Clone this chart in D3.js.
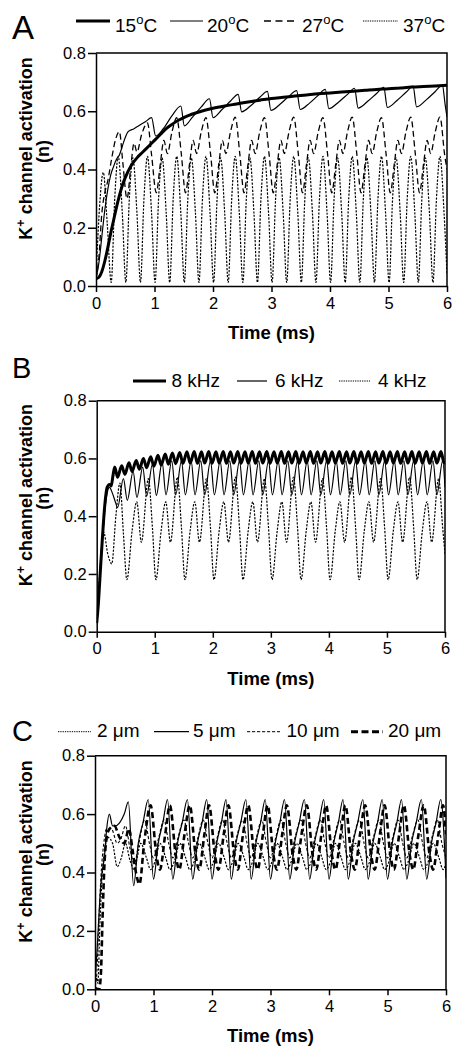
<!DOCTYPE html>
<html><head><meta charset="utf-8">
<script src="https://cdn.jsdelivr.net/npm/d3@7"></script>
<style>
body{margin:0;background:#fff}
svg{display:block}
text{font-family:"Liberation Sans",Arial,Helvetica,sans-serif;fill:#000}
</style>
</head><body>
<svg id="chart" width="462" height="1050"></svg>
<script>
// ---------- tick labels / categories ----------
const timeTicks = [0, 1, 2, 3, 4, 5, 6];
const nTicks = [0, 0.2, 0.4, 0.6, 0.8];
const panelLetters = ["A", "B", "C"];
const legendA = ["15", "20", "27", "37"];          // °C
const legendB = ["8 kHz", "6 kHz", "4 kHz"];
const legendC = ["2 μm", "5 μm", "10 μm", "20 μm"];
const xTitle = "Time (ms)";

// ---------- Panel A : temperature ----------
const a15 = [[0,0.025],[0.05,0.03],[0.1,0.05],[0.15,0.085],[0.2,0.13],[0.25,0.18],[0.3,0.225],[0.35,0.27],[0.4,0.31],[0.45,0.345],[0.5,0.372],[0.6,0.413],[0.7,0.44],[0.8,0.46],[0.9,0.48],[1.0,0.5],[1.1,0.52],[1.2,0.54],[1.3,0.555],[1.4,0.568],[1.5,0.578],[1.6,0.587],[1.8,0.6],[2.0,0.61],[2.2,0.618],[2.4,0.625],[2.6,0.632],[2.8,0.638],[3.0,0.644],[3.2,0.648],[3.4,0.652],[3.6,0.656],[3.8,0.66],[4.0,0.663],[4.2,0.666],[4.4,0.669],[4.6,0.672],[4.8,0.675],[5.0,0.677],[5.2,0.68],[5.4,0.683],[5.6,0.685],[5.8,0.687],[6.0,0.689]];
const a20 = [[0,0.025],[0.05,0.08],[0.1,0.17],[0.15,0.26],[0.2,0.33],[0.25,0.38],[0.3,0.41],[0.35,0.435],[0.4,0.45],[0.45,0.48],[0.5,0.51],[0.55,0.53],[0.65,0.54],[0.75,0.553],[0.85,0.565],[0.95,0.578],
[1.02,0.515],[1.15,0.54],[1.3,0.585],[1.45,0.618],
[1.51,0.55],[1.65,0.58],[1.8,0.615],[1.94,0.643],
[2.0,0.578],[2.15,0.605],[2.3,0.635],[2.43,0.658],
[2.49,0.598],[2.65,0.62],[2.8,0.648],[2.93,0.668],
[2.99,0.603],[3.15,0.625],[3.3,0.652],[3.43,0.671],
[3.49,0.606],[3.65,0.628],[3.8,0.655],[3.92,0.675],
[3.98,0.609],[4.15,0.632],[4.3,0.658],[4.42,0.679],
[4.48,0.611],[4.65,0.635],[4.8,0.662],[4.92,0.682],
[4.98,0.613],[5.15,0.638],[5.3,0.665],[5.42,0.686],
[5.48,0.615],[5.65,0.64],[5.8,0.668],[5.92,0.69],
[5.97,0.62],[6.0,0.58]];
const a27 = [[0,0.025],[0.05,0.1],[0.1,0.25],[0.15,0.32],[0.2,0.36],[0.27,0.44],[0.33,0.5],[0.4,0.53],[0.46,0.42],[0.53,0.3],[0.6,0.42],[0.65,0.49],[0.7,0.46],[0.78,0.52],[0.88,0.56],[0.95,0.45],
[1.03,0.32],[1.1,0.42],[1.16,0.5],[1.22,0.455],[1.3,0.53],[1.38,0.578],[1.46,0.45],
[1.53,0.32],[1.6,0.42],[1.66,0.5],[1.72,0.455],[1.8,0.53],[1.88,0.578],[1.96,0.45],
[2.03,0.32],[2.1,0.42],[2.16,0.5],[2.22,0.455],[2.3,0.53],[2.38,0.58],[2.46,0.45],
[2.53,0.32],[2.6,0.42],[2.66,0.5],[2.72,0.455],[2.8,0.53],[2.88,0.578],[2.96,0.45],
[3.03,0.32],[3.1,0.42],[3.16,0.5],[3.22,0.455],[3.3,0.53],[3.38,0.58],[3.46,0.45],
[3.53,0.32],[3.6,0.42],[3.66,0.5],[3.72,0.455],[3.8,0.53],[3.88,0.578],[3.96,0.45],
[4.03,0.32],[4.1,0.42],[4.16,0.5],[4.22,0.455],[4.3,0.53],[4.38,0.58],[4.46,0.45],
[4.53,0.32],[4.6,0.42],[4.66,0.5],[4.72,0.455],[4.8,0.53],[4.88,0.578],[4.96,0.45],
[5.03,0.32],[5.1,0.42],[5.16,0.5],[5.22,0.455],[5.3,0.53],[5.38,0.58],[5.46,0.45],
[5.53,0.32],[5.6,0.42],[5.66,0.5],[5.72,0.455],[5.8,0.53],[5.88,0.58],[5.96,0.45],[6.0,0.4]];
const a37 = [[0,0.025],[0.06,0.27],[0.125,0.39],[0.19,0.22],[0.26,0.012],
[0.32,0.3],[0.38,0.445],[0.45,0.25],[0.51,0.012],
[0.57,0.3],[0.63,0.44],[0.7,0.25],[0.76,0.012],
[0.82,0.3],[0.88,0.445],[0.95,0.25],[1.01,0.012],
[1.07,0.3],[1.13,0.44],[1.2,0.25],[1.26,0.012],
[1.32,0.3],[1.38,0.445],[1.45,0.25],[1.51,0.012],
[1.57,0.3],[1.63,0.44],[1.7,0.25],[1.76,0.012],
[1.82,0.3],[1.88,0.445],[1.95,0.25],[2.01,0.012],
[2.07,0.3],[2.13,0.44],[2.2,0.25],[2.26,0.012],
[2.32,0.3],[2.38,0.445],[2.45,0.25],[2.51,0.012],
[2.57,0.3],[2.63,0.44],[2.7,0.25],[2.76,0.012],
[2.82,0.3],[2.88,0.445],[2.95,0.25],[3.01,0.012],
[3.07,0.3],[3.13,0.44],[3.2,0.25],[3.26,0.012],
[3.32,0.3],[3.38,0.445],[3.45,0.25],[3.51,0.012],
[3.57,0.3],[3.63,0.44],[3.7,0.25],[3.76,0.012],
[3.82,0.3],[3.88,0.445],[3.95,0.25],[4.01,0.012],
[4.07,0.3],[4.13,0.44],[4.2,0.25],[4.26,0.012],
[4.32,0.3],[4.38,0.445],[4.45,0.25],[4.51,0.012],
[4.57,0.3],[4.63,0.44],[4.7,0.25],[4.76,0.012],
[4.82,0.3],[4.88,0.445],[4.95,0.25],[5.01,0.012],
[5.07,0.3],[5.13,0.44],[5.2,0.25],[5.26,0.012],
[5.32,0.3],[5.38,0.445],[5.45,0.25],[5.51,0.012],
[5.57,0.3],[5.63,0.44],[5.7,0.25],[5.76,0.012],
[5.82,0.3],[5.88,0.445],[5.95,0.25],[6.0,0.04]];

// ---------- Panel B : frequency ----------
const b8 = [[0,0.03],[0.03,0.1],[0.06,0.2],[0.1,0.33],[0.14,0.44],[0.18,0.5],[0.22,0.51],[0.25,0.505],[0.28,0.54],[0.31,0.57],
[0.36,0.535],[0.43,0.575],[0.485,0.545],[0.555,0.585],[0.61,0.555],[0.68,0.593],[0.735,0.563],[0.805,0.6],[0.86,0.568],[0.93,0.606],
[0.985,0.573],[1.055,0.611],[1.11,0.577],[1.18,0.615],[1.235,0.58],[1.305,0.619],[1.36,0.582],[1.43,0.621],[1.485,0.583],[1.555,0.623],
[1.61,0.584],[1.68,0.624],[1.735,0.583],[1.805,0.623],[1.86,0.584],[1.93,0.624],[1.985,0.583],[2.055,0.623],[2.11,0.584],[2.18,0.624],
[2.235,0.583],[2.305,0.623],[2.36,0.584],[2.43,0.624],[2.485,0.583],[2.555,0.623],[2.61,0.584],[2.68,0.624],[2.735,0.583],[2.805,0.623],
[2.86,0.584],[2.93,0.624],[2.985,0.583],[3.055,0.623],[3.11,0.584],[3.18,0.624],[3.235,0.583],[3.305,0.623],[3.36,0.584],[3.43,0.624],
[3.485,0.583],[3.555,0.623],[3.61,0.584],[3.68,0.624],[3.735,0.583],[3.805,0.623],[3.86,0.584],[3.93,0.624],[3.985,0.583],[4.055,0.623],
[4.11,0.584],[4.18,0.624],[4.235,0.583],[4.305,0.623],[4.36,0.584],[4.43,0.624],[4.485,0.583],[4.555,0.623],[4.61,0.584],[4.68,0.624],
[4.735,0.583],[4.805,0.623],[4.86,0.584],[4.93,0.624],[4.985,0.583],[5.055,0.623],[5.11,0.584],[5.18,0.624],[5.235,0.583],[5.305,0.623],
[5.36,0.584],[5.43,0.624],[5.485,0.583],[5.555,0.623],[5.61,0.584],[5.68,0.624],[5.735,0.583],[5.805,0.623],[5.86,0.584],[5.93,0.624],
[5.985,0.584],[6.0,0.59]];
const b6 = [[0,0.03],[0.03,0.1],[0.06,0.2],[0.1,0.32],[0.14,0.42],[0.18,0.48],[0.22,0.5],[0.27,0.48],[0.32,0.45],
[0.36,0.43],[0.46,0.53],[0.527,0.455],[0.627,0.555],[0.693,0.465],[0.793,0.57],[0.86,0.47],[0.96,0.58],[1.027,0.472],[1.127,0.587],
[1.193,0.474],[1.293,0.592],[1.36,0.474],[1.46,0.592],[1.527,0.474],[1.627,0.592],[1.693,0.474],[1.793,0.592],[1.86,0.474],[1.96,0.592],
[2.027,0.474],[2.127,0.592],[2.193,0.474],[2.293,0.592],[2.36,0.474],[2.46,0.592],[2.527,0.474],[2.627,0.592],[2.693,0.474],[2.793,0.592],
[2.86,0.474],[2.96,0.592],[3.027,0.474],[3.127,0.592],[3.193,0.474],[3.293,0.592],[3.36,0.474],[3.46,0.592],[3.527,0.474],[3.627,0.592],
[3.693,0.474],[3.793,0.592],[3.86,0.474],[3.96,0.592],[4.027,0.474],[4.127,0.592],[4.193,0.474],[4.293,0.592],[4.36,0.474],[4.46,0.592],
[4.527,0.474],[4.627,0.592],[4.693,0.474],[4.793,0.592],[4.86,0.474],[4.96,0.592],[5.027,0.474],[5.127,0.592],[5.193,0.474],[5.293,0.592],
[5.36,0.474],[5.46,0.592],[5.527,0.474],[5.627,0.592],[5.693,0.474],[5.793,0.592],[5.86,0.474],[5.96,0.592],[6.0,0.5]];
const b4 = [[0,0.03],[0.05,0.2],[0.12,0.345],[0.19,0.27],[0.26,0.235],[0.33,0.4],[0.4,0.515],[0.46,0.34],[0.52,0.18],
[0.61,0.35],[0.69,0.45],[0.77,0.31],[0.89,0.53],[0.96,0.36],[1.02,0.18],
[1.11,0.35],[1.19,0.45],[1.27,0.31],[1.39,0.535],[1.46,0.36],[1.52,0.18],
[1.61,0.35],[1.69,0.45],[1.77,0.31],[1.89,0.53],[1.96,0.36],[2.02,0.18],
[2.11,0.35],[2.19,0.45],[2.27,0.31],[2.39,0.535],[2.46,0.36],[2.52,0.18],
[2.61,0.35],[2.69,0.45],[2.77,0.31],[2.89,0.53],[2.96,0.36],[3.02,0.18],
[3.11,0.35],[3.19,0.45],[3.27,0.31],[3.39,0.535],[3.46,0.36],[3.52,0.18],
[3.61,0.35],[3.69,0.45],[3.77,0.31],[3.89,0.53],[3.96,0.36],[4.02,0.18],
[4.11,0.35],[4.19,0.45],[4.27,0.31],[4.39,0.535],[4.46,0.36],[4.52,0.18],
[4.61,0.35],[4.69,0.45],[4.77,0.31],[4.89,0.53],[4.96,0.36],[5.02,0.18],
[5.11,0.35],[5.19,0.45],[5.27,0.31],[5.39,0.535],[5.46,0.36],[5.52,0.18],
[5.61,0.35],[5.69,0.45],[5.77,0.31],[5.89,0.53],[5.96,0.36],[6.0,0.27]];

// ---------- Panel C : fibre diameter ----------
const c2 = [[0,0.02],[0.03,0.04],[0.05,0.02],[0.08,0.2],[0.12,0.38],[0.17,0.48],[0.22,0.52],[0.3,0.5],[0.38,0.42],[0.45,0.45],[0.52,0.5],[0.6,0.44],[0.67,0.41],[0.72,0.45],[0.78,0.5],
[0.88,0.45],[0.95,0.41],[1.03,0.44],[1.11,0.5],[1.21,0.45],[1.28,0.41],[1.36,0.44],[1.45,0.5],[1.55,0.45],[1.62,0.41],[1.7,0.44],[1.78,0.5],
[1.88,0.45],[1.95,0.41],[2.03,0.44],[2.11,0.5],[2.21,0.45],[2.28,0.41],[2.36,0.44],[2.45,0.5],[2.55,0.45],[2.62,0.41],[2.7,0.44],[2.78,0.5],
[2.88,0.45],[2.95,0.41],[3.03,0.44],[3.11,0.5],[3.21,0.45],[3.28,0.41],[3.36,0.44],[3.45,0.5],[3.55,0.45],[3.62,0.41],[3.7,0.44],[3.78,0.5],
[3.88,0.45],[3.95,0.41],[4.03,0.44],[4.11,0.5],[4.21,0.45],[4.28,0.41],[4.36,0.44],[4.45,0.5],[4.55,0.45],[4.62,0.41],[4.7,0.44],[4.78,0.5],
[4.88,0.45],[4.95,0.41],[5.03,0.44],[5.11,0.5],[5.21,0.45],[5.28,0.41],[5.36,0.44],[5.45,0.5],[5.55,0.45],[5.62,0.41],[5.7,0.44],[5.78,0.5],
[5.88,0.45],[5.95,0.41],[6.0,0.43]];
const c5 = [[0,0.02],[0.04,0.15],[0.08,0.3],[0.12,0.4],[0.16,0.45],[0.2,0.55],[0.245,0.6],[0.3,0.56],[0.35,0.56],[0.42,0.57],[0.5,0.6],[0.57,0.642],[0.66,0.355],[0.74,0.5],[0.82,0.57],[0.91,0.65],
[1.0,0.377],[1.08,0.5],[1.16,0.57],[1.24,0.65],[1.33,0.377],[1.41,0.5],[1.49,0.57],[1.58,0.65],[1.67,0.377],[1.75,0.5],[1.83,0.57],[1.91,0.65],
[2.0,0.377],[2.08,0.5],[2.16,0.57],[2.24,0.65],[2.33,0.377],[2.41,0.5],[2.49,0.57],[2.58,0.65],[2.67,0.377],[2.75,0.5],[2.83,0.57],[2.91,0.65],
[3.0,0.377],[3.08,0.5],[3.16,0.57],[3.24,0.65],[3.33,0.377],[3.41,0.5],[3.49,0.57],[3.58,0.65],[3.67,0.377],[3.75,0.5],[3.83,0.57],[3.91,0.65],
[4.0,0.377],[4.08,0.5],[4.16,0.57],[4.24,0.65],[4.33,0.377],[4.41,0.5],[4.49,0.57],[4.58,0.65],[4.67,0.377],[4.75,0.5],[4.83,0.57],[4.91,0.65],
[5.0,0.377],[5.08,0.5],[5.16,0.57],[5.24,0.65],[5.33,0.377],[5.41,0.5],[5.49,0.57],[5.58,0.65],[5.67,0.377],[5.75,0.5],[5.83,0.57],[5.91,0.65],
[6.0,0.38]];
const c10 = [[0,0.01],[0.03,0.05],[0.06,0.2],[0.1,0.38],[0.15,0.5],[0.2,0.55],[0.28,0.55],[0.38,0.5],[0.45,0.52],[0.52,0.56],[0.6,0.48],[0.67,0.43],[0.75,0.5],[0.85,0.58],
[0.93,0.5],[1.0,0.45],[1.09,0.52],[1.18,0.58],[1.26,0.5],[1.33,0.45],[1.42,0.52],[1.52,0.58],[1.6,0.5],[1.67,0.45],[1.76,0.52],[1.85,0.58],
[1.93,0.5],[2.0,0.45],[2.09,0.52],[2.18,0.58],[2.26,0.5],[2.33,0.45],[2.42,0.52],[2.52,0.58],[2.6,0.5],[2.67,0.45],[2.76,0.52],[2.85,0.58],
[2.93,0.5],[3.0,0.45],[3.09,0.52],[3.18,0.58],[3.26,0.5],[3.33,0.45],[3.42,0.52],[3.52,0.58],[3.6,0.5],[3.67,0.45],[3.76,0.52],[3.85,0.58],
[3.93,0.5],[4.0,0.45],[4.09,0.52],[4.18,0.58],[4.26,0.5],[4.33,0.45],[4.42,0.52],[4.52,0.58],[4.6,0.5],[4.67,0.45],[4.76,0.52],[4.85,0.58],
[4.93,0.5],[5.0,0.45],[5.09,0.52],[5.18,0.58],[5.26,0.5],[5.33,0.45],[5.42,0.52],[5.52,0.58],[5.6,0.5],[5.67,0.45],[5.76,0.52],[5.85,0.58],
[5.93,0.5],[6.0,0.45]];
const c20 = [[0,0.005],[0.07,0.0],[0.1,0.05],[0.13,0.25],[0.16,0.42],[0.2,0.52],[0.25,0.55],[0.33,0.56],[0.42,0.52],[0.5,0.5],[0.58,0.55],[0.64,0.48],[0.7,0.4],[0.76,0.36],[0.84,0.5],[0.95,0.63],
[1.05,0.46],[1.11,0.41],[1.2,0.53],[1.28,0.63],[1.38,0.46],[1.44,0.41],[1.53,0.53],[1.62,0.63],[1.72,0.46],[1.78,0.41],[1.87,0.53],[1.95,0.63],
[2.05,0.46],[2.11,0.41],[2.2,0.53],[2.28,0.63],[2.38,0.46],[2.44,0.41],[2.53,0.53],[2.62,0.63],[2.72,0.46],[2.78,0.41],[2.87,0.53],[2.95,0.63],
[3.05,0.46],[3.11,0.41],[3.2,0.53],[3.28,0.63],[3.38,0.46],[3.44,0.41],[3.53,0.53],[3.62,0.63],[3.72,0.46],[3.78,0.41],[3.87,0.53],[3.95,0.63],
[4.05,0.46],[4.11,0.41],[4.2,0.53],[4.28,0.63],[4.38,0.46],[4.44,0.41],[4.53,0.53],[4.62,0.63],[4.72,0.46],[4.78,0.41],[4.87,0.53],[4.95,0.63],
[5.05,0.46],[5.11,0.41],[5.2,0.53],[5.28,0.63],[5.38,0.46],[5.44,0.41],[5.53,0.53],[5.62,0.63],[5.72,0.46],[5.78,0.41],[5.87,0.53],[5.95,0.63],
[6.0,0.53]];

// ---------- line styles ----------
const STY = {
  thick:      {w: 3,   dash: null},
  thin:       {w: 1.2, dash: null},
  dashed:     {w: 1.3, dash: "6,3.5"},
  dotted:     {w: 1.2, dash: "2.2,1.4"},
  fineDash:   {w: 1.1, dash: "3,2"},
  thickDash:  {w: 2.6, dash: "6,3.5"}
};
const LEGSTY = {
  thick: {w: 3, dash: null}, thin: {w: 1.2, dash: null},
  dashed: {w: 1.3, dash: "7,4.5"}, dotted: {w: 1, dash: "1.3,1"},
  fineDash: {w: 1, dash: "3.2,1.8"}, thickDash: {w: 3, dash: "7,3.5"}
};

const panels = [
  {letter: panelLetters[0], xr: [96, 447], yr: [286, 53], letterPos: [12, 39], letterSize: 33,
   series: [[a37,"dotted"],[a27,"dashed"],[a20,"thin"],[a15,"thick"]],
   legend: {y: 21, ty: 31.5, items: [
     {label: legendA[0], sty: "thick", x1: 76, x2: 110, tx: 115, deg: true},
     {label: legendA[1], sty: "thin", x1: 170, x2: 203, tx: 207, deg: true},
     {label: legendA[2], sty: "dashed", x1: 264, x2: 296, tx: 302, deg: true},
     {label: legendA[3], sty: "dotted", x1: 363, x2: 398, tx: 403, deg: true}]}},
  {letter: panelLetters[1], xr: [96.7, 445], yr: [631.7, 400.7], letterPos: [12, 378], letterSize: 29,
   series: [[b4,"dotted"],[b6,"thin"],[b8,"thick"]],
   legend: {y: 381, ty: 387, items: [
     {label: legendB[0], sty: "thick", x1: 133, x2: 166, tx: 171.5},
     {label: legendB[1], sty: "thin", x1: 237, x2: 267, tx: 275},
     {label: legendB[2], sty: "dotted", x1: 339, x2: 370, tx: 378}]}},
  {letter: panelLetters[2], xr: [95, 446], yr: [989.3, 755.7], letterPos: [12, 741], letterSize: 29,
   series: [[c2,"dotted"],[c10,"fineDash"],[c5,"thin"],[c20,"thickDash"]],
   legend: {y: 731.7, ty: 737, items: [
     {label: legendC[0], sty: "dotted", x1: 58, x2: 91, tx: 97},
     {label: legendC[1], sty: "thin", x1: 154, x2: 189, tx: 193},
     {label: legendC[2], sty: "fineDash", x1: 247, x2: 280, tx: 286.5},
     {label: legendC[3], sty: "thickDash", x1: 351, x2: 383, tx: 388}]}}
];

const svg = d3.select("#chart");

panels.forEach((p, pi) => {
  const x = d3.scaleLinear().domain([0, 6]).range(p.xr);
  const y = d3.scaleLinear().domain([0, 0.8]).range(p.yr);
  const g = svg.append("g");

  const cid = "clip" + pi;
  svg.append("clipPath").attr("id", cid).append("rect")
    .attr("x", p.xr[0]).attr("y", p.yr[1] - 1)
    .attr("width", p.xr[1] - p.xr[0]).attr("height", p.yr[0] - p.yr[1] + 1.5);

  const line = d3.line().x(d => x(d[0])).y(d => y(d[1])).curve(d3.curveMonotoneX);
  const lg = g.append("g").attr("clip-path", `url(#${cid})`);
  p.series.forEach(([data, s]) => {
    const st = STY[s];
    lg.append("path").datum(data).attr("d", line)
      .attr("fill", "none").attr("stroke", "#000")
      .attr("stroke-width", st.w).attr("stroke-linejoin", "round")
      .attr("stroke-dasharray", st.dash);
  });

  g.append("path")
    .attr("d", `M${p.xr[0]},${p.yr[1]}H${p.xr[1]}V${p.yr[0]}`)
    .attr("fill", "none").attr("stroke", "#000").attr("stroke-width", 1.5);

  const ax = g.append("g").attr("transform", `translate(0,${p.yr[0]})`)
    .call(d3.axisBottom(x).tickValues(timeTicks).tickFormat(d3.format("d"))
      .tickSize(6).tickSizeOuter(0).tickPadding(5));
  const ay = g.append("g").attr("transform", `translate(${p.xr[0]},0)`)
    .call(d3.axisLeft(y).tickValues(nTicks).tickFormat(d3.format(".1f"))
      .tickSize(8).tickSizeOuter(0).tickPadding(2));
  [ax, ay].forEach(a => {
    a.select(".domain").attr("stroke-width", 1.5);
    a.selectAll(".tick line").attr("stroke-width", 1.5);
    a.selectAll("text").attr("font-size", 16.5).attr("font-family", '"Liberation Sans",Arial,sans-serif');
  });

  g.append("text").attr("x", (p.xr[0] + p.xr[1]) / 2).attr("y", p.yr[0] + 53)
    .attr("text-anchor", "middle").attr("font-size", 18.5).attr("font-weight", "bold")
    .text(xTitle);

  const yc = (p.yr[0] + p.yr[1]) / 2 - 21;
  const t1 = g.append("text").attr("transform", `translate(32,${yc}) rotate(-90)`)
    .attr("text-anchor", "middle").attr("font-size", 18).attr("font-weight", "bold");
  t1.append("tspan").text("K");
  t1.append("tspan").attr("dy", -7).attr("font-size", 12.5).text("+");
  t1.append("tspan").attr("dy", 7).text(" channel activation");
  g.append("text").attr("transform", `translate(49,${yc + 3}) rotate(-90)`)
    .attr("text-anchor", "middle").attr("font-size", 18).attr("font-weight", "bold")
    .text("(n)");

  g.append("text").attr("x", p.letterPos[0]).attr("y", p.letterPos[1])
    .attr("font-size", p.letterSize).text(p.letter);

  p.legend.items.forEach(it => {
    const st = LEGSTY[it.sty];
    g.append("line").attr("x1", it.x1).attr("x2", it.x2)
      .attr("y1", p.legend.y).attr("y2", p.legend.y)
      .attr("stroke", "#000").attr("stroke-width", st.w).attr("stroke-dasharray", st.dash);
    const t = g.append("text").attr("x", it.tx).attr("y", p.legend.ty).attr("font-size", 19);
    if (it.deg) {
      t.append("tspan").text(it.label);
      t.append("tspan").attr("dy", -8).attr("font-size", 13).text("o");
      t.append("tspan").attr("dy", 8).text("C");
    } else {
      t.text(it.label);
    }
  });
});
</script>
</body></html>
